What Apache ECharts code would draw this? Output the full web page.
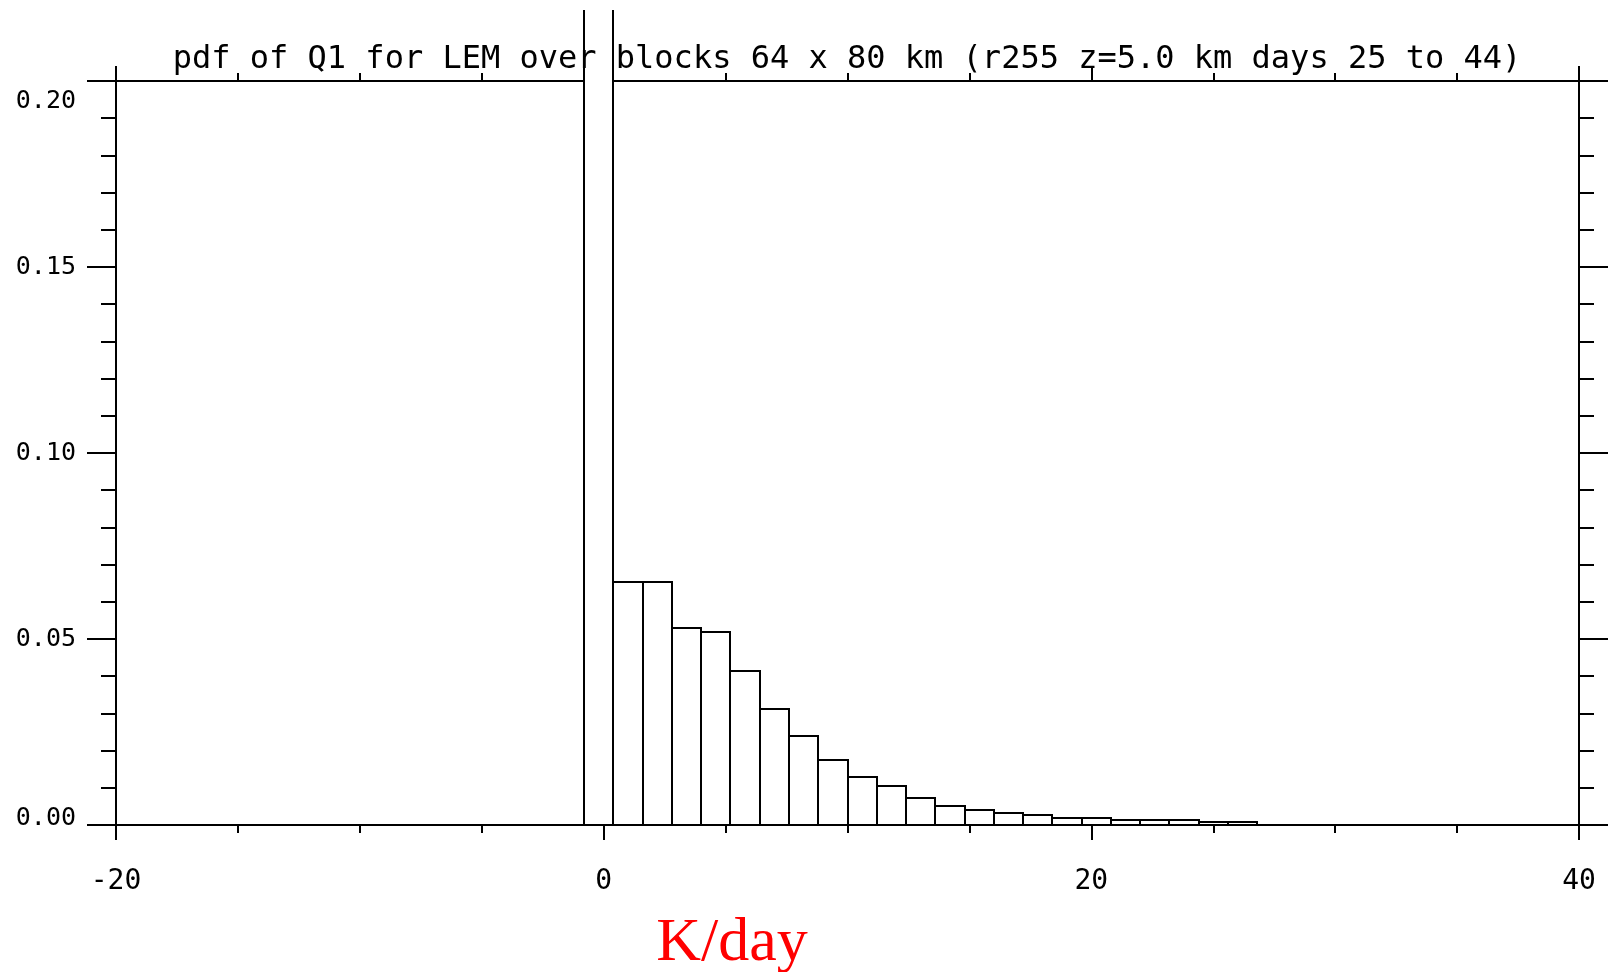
<!DOCTYPE html>
<html>
<head>
<meta charset="utf-8">
<script src="https://cdn.jsdelivr.net/npm/echarts@6/dist/echarts.min.js"></script>
<style>
html,body{margin:0;padding:0;background:#fff;width:1613px;height:972px;overflow:hidden;}
#c{position:absolute;left:0;top:10px;width:1613px;height:962px;}
</style>
</head>
<body>
<div id="c"></div>
<script>
// Histogram bin edges (K/day) and pdf value of each bin
const binEdges = [-0.8, 0.4, 1.6, 2.8, 4.0, 5.2, 6.4, 7.6, 8.8, 10.0, 11.2, 12.4, 13.6, 14.8, 16.0, 17.2, 18.4, 19.6, 20.8, 22.0, 23.2, 24.4, 25.6, 26.8];
const pdfValues = [0.30, 0.0652, 0.0652, 0.0529, 0.0518, 0.0414, 0.0311, 0.0240, 0.0174, 0.0130, 0.0105, 0.0072, 0.0051, 0.0040, 0.0033, 0.0026, 0.0019, 0.0019, 0.0014, 0.0014, 0.0014, 0.0007, 0.0007];
const xRange = [-20, 40];
const xInterval = 20;
const yRange = [0, 0.2];
const yInterval = 0.05;
const titleText = 'pdf of Q1 for LEM over blocks 64 x 80 km (r255 z=5.0 km days 25 to 44)';
const xAxisTitle = 'K/day';

const bins = pdfValues.map((v, i) => [binEdges[i], binEdges[i + 1], v]);
const MONO = '"DejaVu Sans Mono", monospace';

const chart = echarts.init(document.getElementById('c'), null, {renderer: 'canvas'});

function xAxisCfg(pos) {
  return {
    type: 'value', position: pos, min: xRange[0], max: xRange[1], interval: xInterval,
    axisLine: {show: true, onZero: false, lineStyle: {color: '#000', width: 2}},
    axisTick: {show: true, inside: false, length: 15, lineStyle: {color: '#000', width: 2}},
    minorTick: {show: true, splitNumber: 4, length: 8, lineStyle: {color: '#000', width: 2}},
    splitLine: {show: false},
    axisLabel: pos === 'bottom' ? {
      show: true, margin: 43, fontFamily: MONO, fontSize: 28, color: '#000',
      formatter: v => String(v)
    } : {show: false}
  };
}
function yAxisCfg(pos) {
  return {
    type: 'value', position: pos, min: yRange[0], max: yRange[1], interval: yInterval,
    axisLine: {show: true, onZero: false, lineStyle: {color: '#000', width: 2}},
    axisTick: {show: true, inside: false, length: 29, lineStyle: {color: '#000', width: 2}},
    minorTick: {show: true, splitNumber: 5, length: 15, lineStyle: {color: '#000', width: 2}},
    splitLine: {show: false},
    axisLabel: pos === 'left' ? {
      show: true, margin: 40, fontFamily: MONO, fontSize: 25, color: '#000',
      formatter: v => {
        const s = v.toFixed(2);
        if (Math.abs(v - yRange[1]) < 1e-9) return '{t|' + s + '}';
        if (Math.abs(v - yRange[0]) < 1e-9) return '{b|' + s + '}';
        return s;
      },
      rich: {
        t: {fontFamily: MONO, fontSize: 25, color: '#000', padding: [40, 0, 0, 0]},
        b: {fontFamily: MONO, fontSize: 25, color: '#000', padding: [0, 0, 14, 0]}
      }
    } : {show: false}
  };
}

chart.setOption({
  animation: false,
  backgroundColor: '#fff',
  grid: {left: 116, right: 34, top: 71, bottom: 147, containLabel: false},
  xAxis: [xAxisCfg('bottom'), xAxisCfg('top')],
  yAxis: [yAxisCfg('left'), yAxisCfg('right')],
  series: [{
    type: 'custom',
    clip: false,
    xAxisIndex: 0, yAxisIndex: 0,
    data: bins,
    renderItem: function (params, api) {
      const p0 = api.coord([api.value(0), 0]);
      const p1 = api.coord([api.value(1), api.value(2)]);
      const x0 = Math.round(p0[0]), x1 = Math.round(p1[0]);
      const yb = Math.round(p0[1]), yt = Math.round(p1[1]);
      return {
        type: 'rect',
        shape: {x: x0, y: yt, width: x1 - x0, height: yb - yt},
        style: {fill: '#fff', stroke: '#000', lineWidth: 2}
      };
    }
  }],
  graphic: [
    {type: 'text', x: 847, y: 50, z: 10,
     style: {text: titleText, fontFamily: MONO, fontSize: 32, fill: '#000', align: 'center', verticalAlign: 'middle', textAlign: 'center', textVerticalAlign: 'middle'}},
    {type: 'text', x: 732, y: 934, z: 10,
     style: {text: xAxisTitle, fontFamily: '"Liberation Serif", serif', fontSize: 62, fill: '#ff0000', align: 'center', verticalAlign: 'middle', textAlign: 'center', textVerticalAlign: 'middle'}}
  ]
});
</script>
</body>
</html>
